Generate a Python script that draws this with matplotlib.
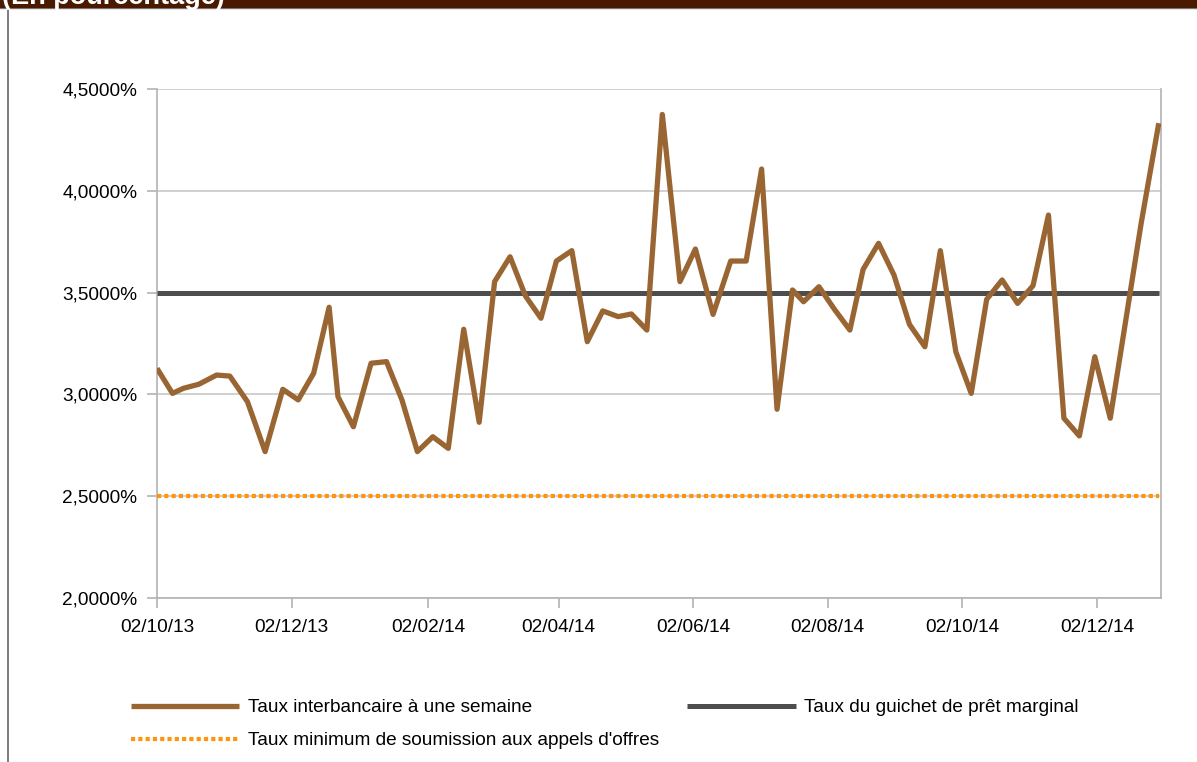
import matplotlib
matplotlib.use("Agg")
import matplotlib.pyplot as plt
import matplotlib.dates as mdates
from matplotlib.ticker import FuncFormatter, MultipleLocator
from matplotlib.lines import Line2D
from matplotlib.patches import Rectangle
import pandas as pd

plt.rcParams['font.family'] = ['Liberation Sans', 'DejaVu Sans']

dates = ["2013-10-02", "2013-10-09", "2013-10-14", "2013-10-21", "2013-10-29",
         "2013-11-04", "2013-11-12", "2013-11-20", "2013-11-28",
         "2013-12-05", "2013-12-12", "2013-12-19", "2013-12-23", "2013-12-30",
         "2014-01-07", "2014-01-14", "2014-01-21", "2014-01-28",
         "2014-02-04", "2014-02-11", "2014-02-18", "2014-02-25",
         "2014-03-04", "2014-03-11", "2014-03-18", "2014-03-25",
         "2014-04-01", "2014-04-08", "2014-04-15", "2014-04-22", "2014-04-29",
         "2014-05-05", "2014-05-12", "2014-05-19", "2014-05-27",
         "2014-06-03", "2014-06-11", "2014-06-19", "2014-06-26",
         "2014-07-03", "2014-07-10", "2014-07-17", "2014-07-22", "2014-07-29",
         "2014-08-05", "2014-08-12", "2014-08-18", "2014-08-25",
         "2014-09-01", "2014-09-08", "2014-09-15", "2014-09-22", "2014-09-29",
         "2014-10-06", "2014-10-13", "2014-10-20", "2014-10-27",
         "2014-11-03", "2014-11-10", "2014-11-17", "2014-11-24",
         "2014-12-01", "2014-12-08", "2014-12-22", "2014-12-30"]

taux_interbancaire = [3.128, 3.005, 3.030, 3.050, 3.095,
                      3.090, 2.964, 2.719, 3.025,
                      2.973, 3.104, 3.428, 2.989, 2.841,
                      3.153, 3.161, 2.973, 2.719,
                      2.792, 2.735, 3.320, 2.863,
                      3.554, 3.676, 3.483, 3.374,
                      3.655, 3.706, 3.259, 3.410, 3.382,
                      3.395, 3.316, 4.375, 3.554,
                      3.714, 3.393, 3.655, 3.655,
                      4.107, 2.927, 3.513, 3.455, 3.529,
                      3.418, 3.316, 3.614, 3.742,
                      3.586, 3.344, 3.234, 3.706, 3.210,
                      3.005, 3.467, 3.562, 3.447,
                      3.534, 3.881, 2.883, 2.796,
                      3.185, 2.883, 3.840, 4.332]

taux_pret_marginal = [3.5] * len(dates)
taux_minimum = [2.5] * len(dates)

labels = ["Taux interbancaire à une semaine",
          "Taux du guichet de prêt marginal",
          "Taux minimum de soumission aux appels d'offres"]

brown = '#996633'
dark = '#4d4d4d'
orange = '#ff950e'
grid_col = '#c8c8c8'
axis_col = '#b3b3b3'

x = pd.to_datetime(dates)

W, H = 1197, 762
fig = plt.figure(figsize=(W / 100, H / 100), dpi=100)
ax = fig.add_axes([157 / W, 1 - 598 / H, (1161 - 157) / W, (598 - 89) / H])

l2, = ax.plot(x, taux_pret_marginal, color=dark, lw=3.6, solid_capstyle='butt', zorder=3)
l3, = ax.plot(x, taux_minimum, color=orange, lw=3.0, linestyle=(0, (1, 0.75)),
              dash_capstyle='butt', zorder=3)
l1, = ax.plot(x, taux_interbancaire, color=brown, lw=3.8, solid_joinstyle='round',
              solid_capstyle='butt', zorder=4)

ax.set_ylim(2.0, 4.5)
ax.set_xlim(pd.Timestamp("2013-10-02"), pd.Timestamp("2014-12-31"))
ax.yaxis.set_major_locator(MultipleLocator(0.5))
ax.yaxis.set_major_formatter(FuncFormatter(lambda v, p: f"{v:.4f}%".replace('.', ',')))
ax.xaxis.set_major_locator(mdates.MonthLocator(bymonth=[2, 4, 6, 8, 10, 12], bymonthday=2))
ax.xaxis.set_major_formatter(mdates.DateFormatter('%d/%m/%y'))

ax.grid(axis='y', color=grid_col, lw=1.2, zorder=0)
ax.set_axisbelow(True)
for side in ['left', 'bottom', 'right']:
    ax.spines[side].set_color(axis_col)
    ax.spines[side].set_linewidth(1.2)
ax.spines['top'].set_visible(False)
ax.tick_params(axis='both', colors=axis_col, labelcolor='black', labelsize=13.7,
               length=7.2, width=1.2, direction='out')
ax.tick_params(axis='y', pad=7)
ax.tick_params(axis='x', pad=8)

# legend
leg = fig.legend([l1, l3, l2], [labels[0], labels[2], labels[1]], ncol=2,
                 loc='upper left', bbox_to_anchor=(131 / W, 1 - 699 / H),
                 frameon=False, fontsize=13.7, handlelength=5.7, handletextpad=0.45,
                 columnspacing=1.47, labelspacing=0.82, borderpad=0, borderaxespad=0)

# top banner and frame
fig.patches.append(Rectangle((0, 1 - 7 / H), 1, 7 / H, transform=fig.transFigure,
                             color='#4a1a00', zorder=5))
fig.lines.append(Line2D([0, 1], [1 - 7.5 / H, 1 - 7.5 / H], transform=fig.transFigure,
                        color='#888888', lw=1.0))
fig.lines.append(Line2D([8 / W, 8 / W], [0, 1 - 7 / H], transform=fig.transFigure,
                        color='#666666', lw=1.2))
fig.text(2 / W, 1 - 4 / H, "(En pourcentage)", color='white', fontsize=19.5,
         fontweight='bold', va='baseline', ha='left', zorder=6)

fig.savefig('out.png', dpi=100)
